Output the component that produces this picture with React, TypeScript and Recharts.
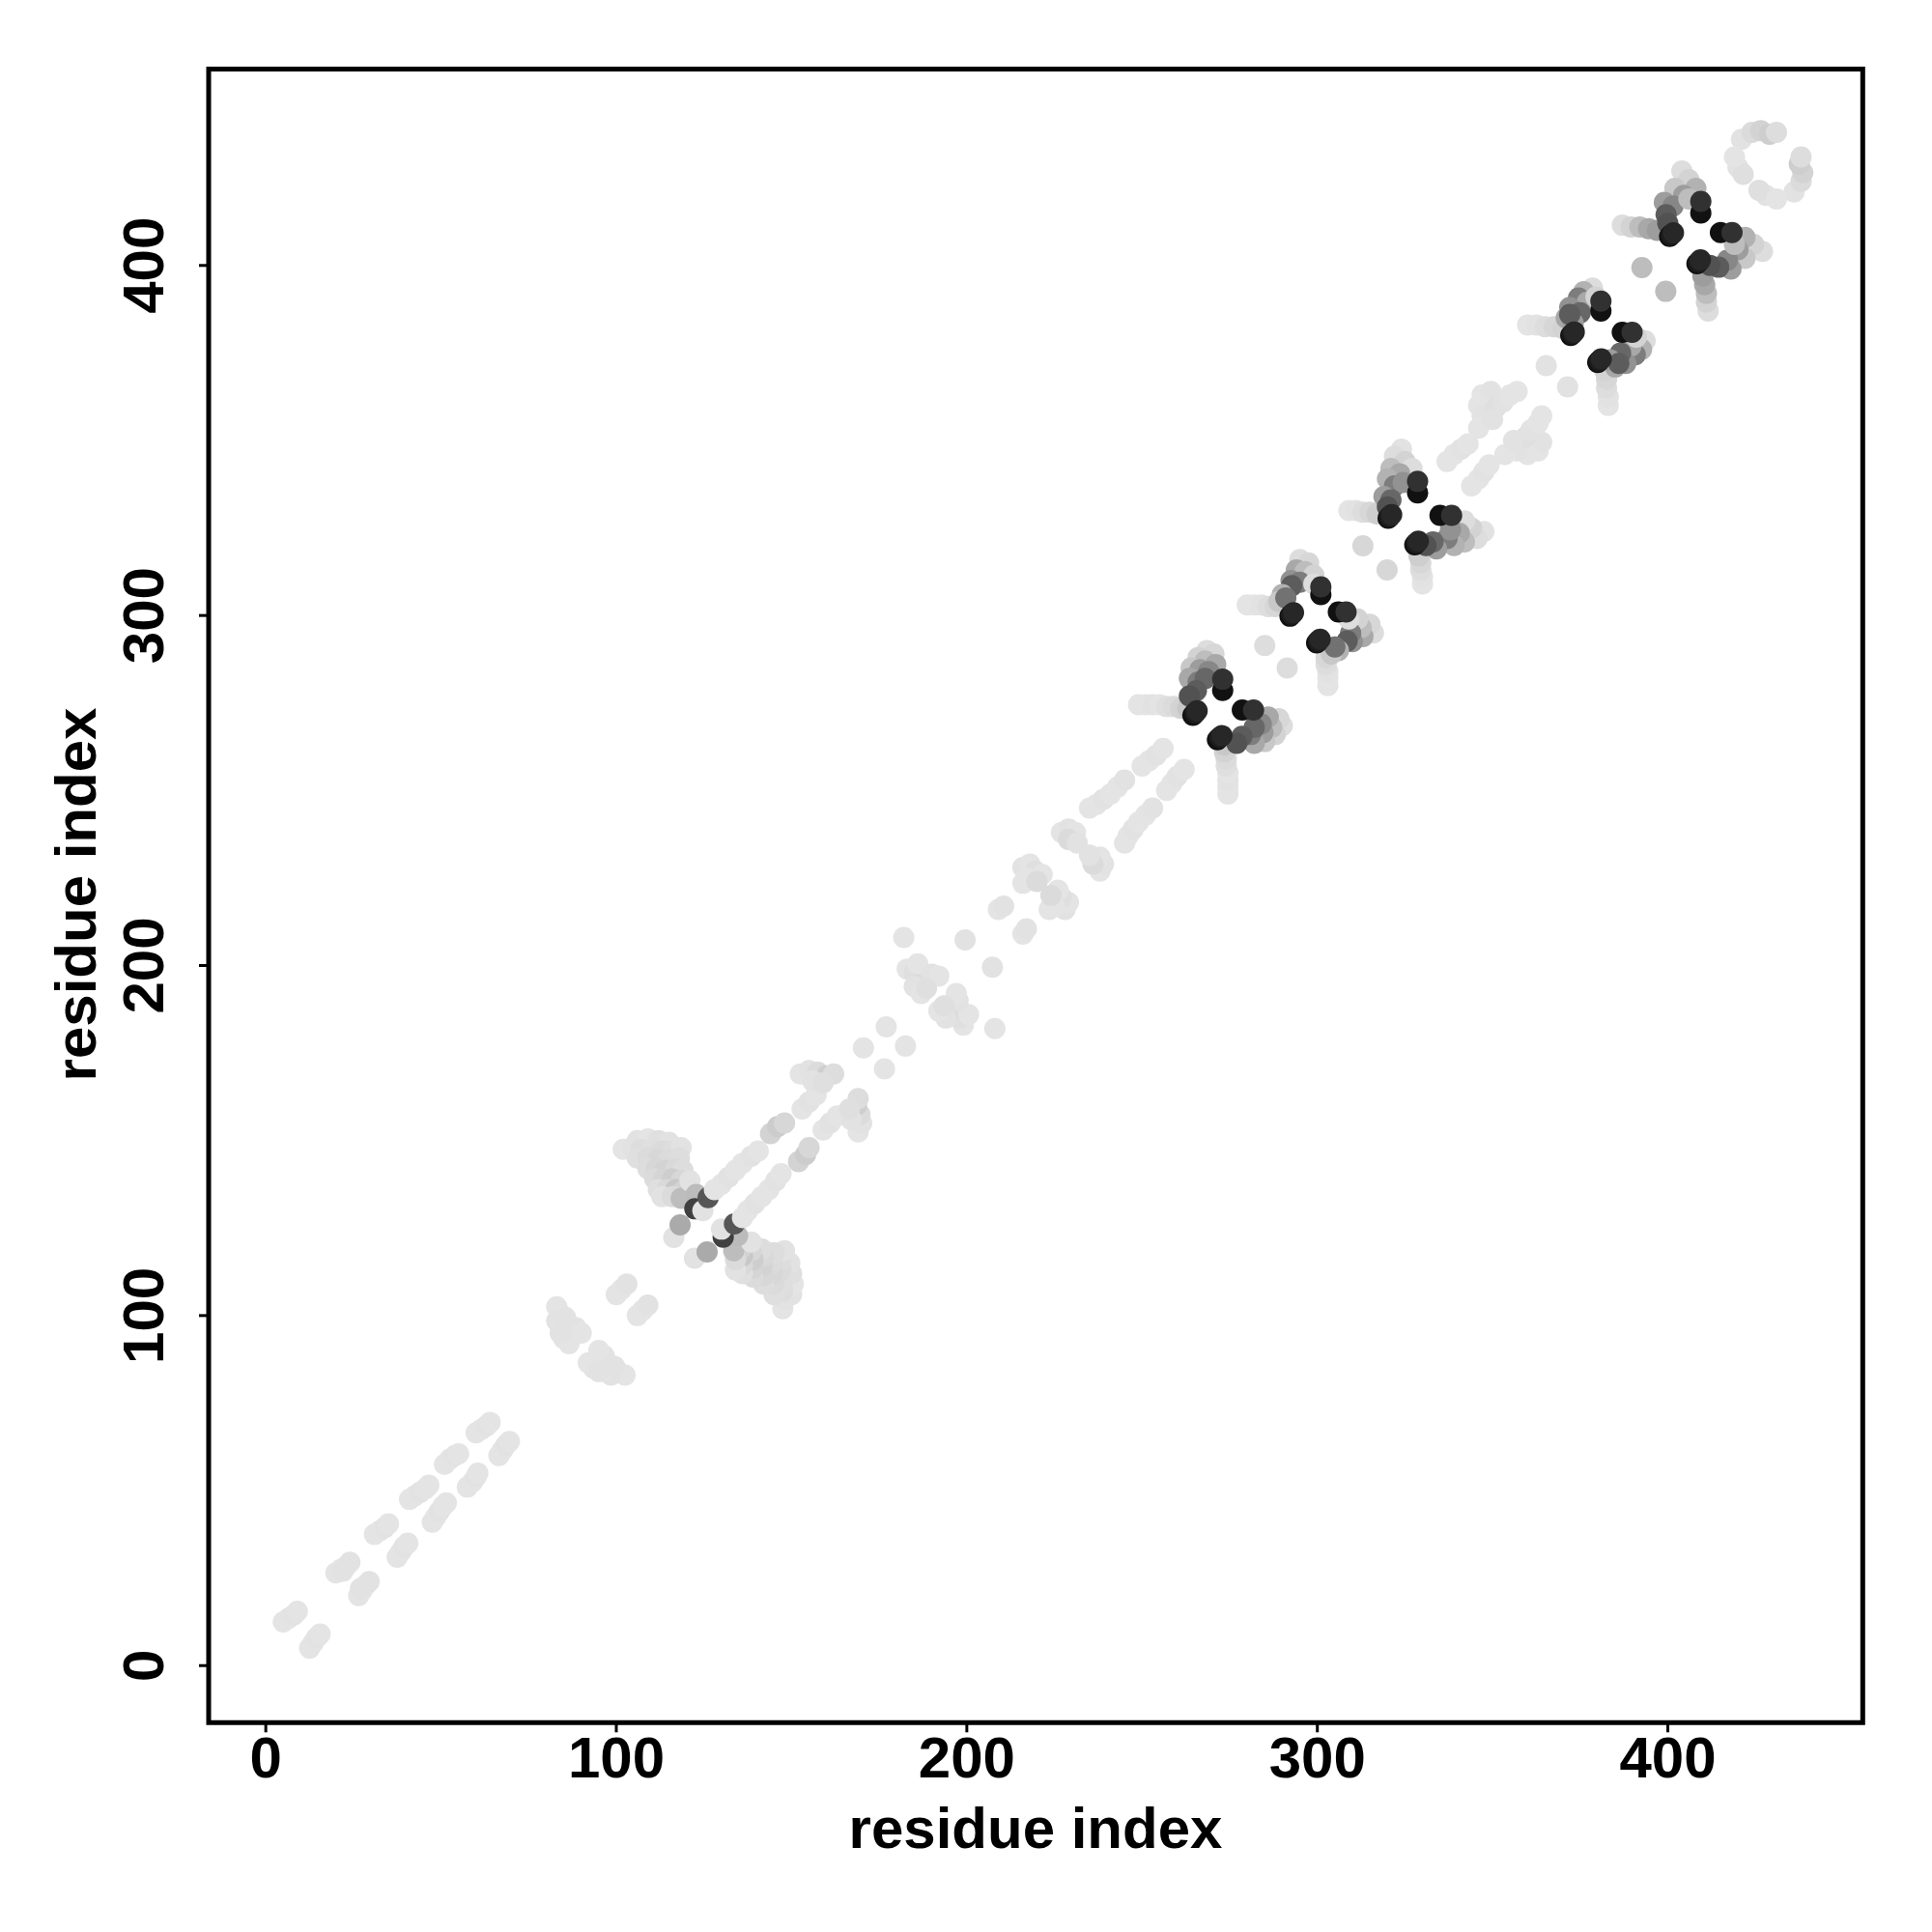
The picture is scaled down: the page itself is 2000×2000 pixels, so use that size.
import React from 'react';
import { ScatterChart, Scatter, XAxis, YAxis, ReferenceArea, Label } from 'recharts';

// contact = [residue i, residue j, score 0..1]; only i < j is listed, the map is symmetric
type Contact = [number, number, number];

const stripesNterm: Contact[] = [
  [5, 12.5, 0.02], [6.5, 13.5, 0.02], [8, 14.5, 0.03], [9, 15.5, 0.02],
  [20, 26.5, 0.02], [21.5, 27.5, 0.02], [23, 28.5, 0.02], [24, 29.5, 0.03], [22, 27, 0.03],
  [31, 37.5, 0.02], [32.5, 38.5, 0.02], [34, 39.5, 0.03], [35, 40.5, 0.02],
  [41, 47.5, 0.02], [42.5, 48.5, 0.02], [44, 49.5, 0.03], [45.5, 50.5, 0.02], [46.5, 51.5, 0.02],
  [51, 57.5, 0.02], [52.5, 59, 0.02], [54, 60, 0.03], [55, 60.5, 0.02],
  [60, 66.5, 0.02], [61.5, 67.5, 0.02], [63, 68.5, 0.03], [64, 69.5, 0.02],
];

const cluster90: Contact[] = [
  [83, 102.5, 0.02], [84, 100.5, 0.02], [83, 98.5, 0.03], [84.5, 96.5, 0.02], [86.5, 97.5, 0.04],
  [88.5, 96.5, 0.03], [90, 95, 0.02], [85, 93.5, 0.03], [86.5, 92, 0.02], [84, 95, 0.03], [85.5, 99.5, 0.03],
  [100, 106, 0.02], [101.5, 107.5, 0.02], [103, 109, 0.03],
];

const hairpin125: Contact[] = [
  [106, 150, 0.03], [109, 150.5, 0.02], [112, 150, 0.04], [115, 149.5, 0.03],
  [102, 147.5, 0.02], [104.5, 148, 0.03], [107, 147.5, 0.05], [110, 147.5, 0.04], [113, 147, 0.06], [116, 147, 0.05], [118.5, 148, 0.03],
  [106, 145, 0.04], [109, 145, 0.06], [112, 144.5, 0.08], [115, 144.5, 0.06], [118, 145, 0.05],
  [109, 142, 0.05], [111.5, 142, 0.08], [114, 141.5, 0.1], [117, 142, 0.07], [119, 141.5, 0.05],
  [111, 139, 0.06], [113.5, 139, 0.09], [116, 139, 0.12], [118.5, 138.5, 0.08],
  [112, 136, 0.04], [114.5, 136, 0.07], [117, 136, 0.15], [119, 135.5, 0.1],
  [113, 134, 0.03], [116, 134, 0.06], [118.5, 133.5, 0.2],
  [121, 138.5, 0.03], [116.4, 122.3, 0.03], [118.2, 125.9, 0.29],
  [122.8, 134.6, 0.21], [122.4, 130.5, 0.78], [124.7, 130, 0.03], [126.2, 133.7, 0.68],
];

const middle140to260: Contact[] = [
  [128, 136, 0.02], [130, 137.5, 0.02], [132, 139.5, 0.03], [134, 141.5, 0.02], [136, 143.5, 0.02], [138.5, 145.5, 0.03], [140.5, 147, 0.02],
  [144, 152, 0.1], [146, 154, 0.13], [148, 155, 0.08],
  [153, 159, 0.02], [155, 161, 0.03], [157, 163, 0.02],
  [152.5, 169, 0.02], [155, 170, 0.03], [157.5, 169.5, 0.06], [160, 168.5, 0.12], [162, 169, 0.05], [156, 167, 0.03], [159, 166.5, 0.04],
  [170.5, 176.5, 0.02], [177, 182.5, 0.02],
  [182, 208, 0.02],
  [183, 199, 0.02], [185, 198, 0.04], [187.5, 196, 0.06], [186, 200.5, 0.02], [190, 197.5, 0.03], [192, 197, 0.02],
  [185, 194, 0.03], [187, 192, 0.02], [188.5, 193.5, 0.04],
  [199.5, 207.3, 0.03],
  [209, 216, 0.02], [210.5, 217, 0.03],
  [216, 228, 0.03], [218, 229, 0.02], [219.5, 227, 0.04], [221.5, 226, 0.02], [217, 225, 0.02], [216, 223.5, 0.02], [220, 224, 0.06],
  [227, 238, 0.02], [229, 239, 0.03], [231, 238, 0.02], [229, 236, 0.06], [231.5, 235, 0.03],
  [235, 245, 0.02], [237, 246, 0.02], [239, 247.5, 0.03], [241, 249, 0.02], [243, 251, 0.02], [245, 253, 0.03],
  [250, 257, 0.02], [252, 258.5, 0.02], [254, 260, 0.03], [256, 262, 0.02],
];

const sheet272: Contact[] = [
  [249, 274.5, 0.02], [251, 274.5, 0.02], [253, 274.5, 0.03], [255, 274.5, 0.02], [257, 274, 0.04], [259, 274, 0.06], [261, 273.5, 0.1], [263, 273.5, 0.15],
  [268.5, 290, 0.05], [270.5, 289, 0.08], [266, 288, 0.1], [268, 287, 0.2], [271, 286, 0.3], [264, 285, 0.15],
  [266.5, 284.5, 0.35], [269, 284, 0.45], [263.5, 282, 0.3], [266, 281, 0.5], [268, 282, 0.6], [265.5, 278.5, 0.65], [263.5, 277, 0.7],
  [264.5, 271.5, 1.0], [265.2, 272.2, 0.95], [265.7, 272.8, 0.9], [273, 278.6, 1.0], [273, 281.8, 0.85],
];

const sheet300: Contact[] = [
  [280, 303, 0.02], [282, 303, 0.02], [284, 303, 0.03], [286, 302.5, 0.05], [288, 302.5, 0.08],
  [295, 316, 0.05], [297.5, 315, 0.08], [294, 313, 0.3], [296.5, 312.5, 0.2], [299, 311.5, 0.1], [292.5, 310, 0.4],
  [295, 309.5, 0.5], [292.7, 308.5, 0.65], [299, 309, 0.05], [290, 306, 0.25], [289, 304, 0.15], [291, 305, 0.55],
  [285, 291.4, 0.05],
  [292.2, 299.8, 1.0], [292.7, 300.3, 0.95], [293.2, 300.8, 0.9], [301, 306, 1.0], [301, 308.2, 0.85],
];

const sheet328: Contact[] = [
  [309, 330, 0.02], [311, 330, 0.03], [313, 329.5, 0.05], [315, 329.5, 0.08], [317, 329, 0.12],
  [324, 347.5, 0.03], [322, 345.5, 0.05], [325, 344, 0.1], [327, 342, 0.05], [321, 342, 0.2], [323.5, 340.5, 0.3],
  [320, 339, 0.25], [322, 337, 0.5], [324.5, 338, 0.4], [319, 334, 0.35], [321, 333, 0.6], [320, 331, 0.7],
  [313, 319.9, 0.08],
  [320.2, 327.8, 1.0], [320.7, 328.3, 0.95], [321.2, 328.8, 0.9], [328.6, 335, 1.0], [328.6, 338.3, 0.85],
];

const middle340to372: Contact[] = [
  [337, 344, 0.02], [339, 346, 0.02], [341, 347.5, 0.03], [343, 349, 0.02],
  [347, 363, 0.02], [349.5, 364, 0.03], [346, 360, 0.02], [347, 357, 0.03], [346, 353.5, 0.02],
  [351, 359.5, 0.04], [353, 361, 0.03], [355, 363, 0.02], [357, 364, 0.02], [350, 356, 0.03],
  [365.3, 371.4, 0.03],
];

const sheet381: Contact[] = [
  [360, 383, 0.02], [362.5, 383, 0.03], [365, 382.5, 0.05], [367.5, 382.5, 0.08], [370, 382, 0.1],
  [378.5, 393.5, 0.05], [376, 392.5, 0.25], [374.5, 390.7, 0.5], [377, 389.5, 0.3], [379.5, 391, 0.1],
  [372, 388, 0.4], [375, 386.5, 0.6], [371, 385, 0.3], [373, 383.5, 0.35], [372, 386, 0.65],
  [372.3, 380, 1.0], [372.8, 380.5, 0.95], [373.3, 381, 0.9], [380.9, 387, 1.0], [380.9, 389.8, 0.85],
];

const sheet409: Contact[] = [
  [387, 411.5, 0.05], [389.5, 411, 0.1], [392, 411, 0.2], [394.5, 410.5, 0.3], [397, 410, 0.35],
  [404, 427, 0.05], [406, 424.5, 0.1], [402, 422, 0.15], [408, 422, 0.25], [404.5, 420, 0.35],
  [399, 418, 0.35], [401.5, 417, 0.45], [399.5, 414.5, 0.65], [406, 419, 0.2], [400, 412, 0.7],
  [392.6, 399.4, 0.2],
  [400.5, 408.3, 1.0], [401, 408.8, 0.95], [401.6, 409.3, 0.9], [409.4, 415, 1.0], [409.4, 418.3, 0.85],
];

const cTerminal: Contact[] = [
  [421, 436, 0.03], [424, 438, 0.06], [426.5, 438.5, 0.1], [429, 437.5, 0.12], [431, 438, 0.05],
  [420, 428, 0.03], [421.5, 426, 0.04], [419, 431, 0.02],
];

const axisTicks = [0, 100, 200, 300, 400];
const xDomain = [-16.3, 455.6];
const yDomain = [-16.3, 456.1];

const contacts = [
  ...stripesNterm, ...cluster90, ...hairpin125, ...middle140to260,
  ...sheet272, ...sheet300, ...sheet328, ...middle340to372, ...sheet381, ...sheet409, ...cTerminal,
];
const points = contacts.flatMap(([i, j, v]) => [
  { x: i, y: j, v },
  { x: j, y: i, v },
]);

const FONT = '"Liberation Sans", Arial, Helvetica, sans-serif';

const Dot = (props: any) => {
  const { cx, cy, payload } = props;
  const g = Math.round(232 - 215 * payload.v);
  return <circle cx={cx} cy={cy} r={11} fill={`rgb(${g},${g},${g})`} />;
};

const XTick = (props: any) => {
  const { x, y, payload } = props;
  return (
    <text x={x} y={y + 46.7} textAnchor="middle" fontSize={60} fontWeight="bold" fontFamily={FONT} fill="#000">
      {payload.value}
    </text>
  );
};

const YTick = (props: any) => {
  const { x, y, payload } = props;
  const bx = x - 36.7;
  return (
    <text x={bx} y={y} transform={`rotate(-90 ${bx} ${y})`} textAnchor="middle" fontSize={60} fontWeight="bold" fontFamily={FONT} fill="#000">
      {payload.value}
    </text>
  );
};

const App = () => {
  return (
    <div style={{ position: 'absolute', left: 0, top: 0, width: 2000, height: 2000, background: '#fff' }}>
      <ScatterChart width={2000} height={2000} margin={{ top: 71.5, right: 71.7, left: 66, bottom: 66.7 }}>
        <XAxis
          type="number"
          dataKey="x"
          domain={xDomain}
          ticks={axisTicks}
          allowDataOverflow
          axisLine={false}
          tickSize={10}
          tickMargin={0}
          tickLine={{ stroke: '#000', strokeWidth: 3 }}
          tick={XTick}
          height={150}
        >
          <Label
            content={() => (
              <text x={1072} y={1913} textAnchor="middle" fontSize={60} fontWeight="bold" fontFamily={FONT} fill="#000">
                residue index
              </text>
            )}
          />
        </XAxis>
        <YAxis
          type="number"
          dataKey="y"
          domain={yDomain}
          ticks={axisTicks}
          allowDataOverflow
          axisLine={false}
          tickSize={10}
          tickMargin={0}
          tickLine={{ stroke: '#000', strokeWidth: 3 }}
          tick={YTick}
          width={150}
        >
          <Label
            content={() => (
              <text x={98.5} y={926} transform="rotate(-90 98.5 926)" textAnchor="middle" fontSize={60} fontWeight="bold" fontFamily={FONT} fill="#000">
                residue index
              </text>
            )}
          />
        </YAxis>
        <Scatter data={points} shape={Dot} isAnimationActive={false} />
        <ReferenceArea
          x1={xDomain[0]}
          x2={xDomain[1]}
          y1={yDomain[0]}
          y2={yDomain[1]}
          fill="none"
          stroke="#000"
          strokeWidth={5}
          ifOverflow="visible"
        />
      </ScatterChart>
    </div>
  );
};

export default App;
